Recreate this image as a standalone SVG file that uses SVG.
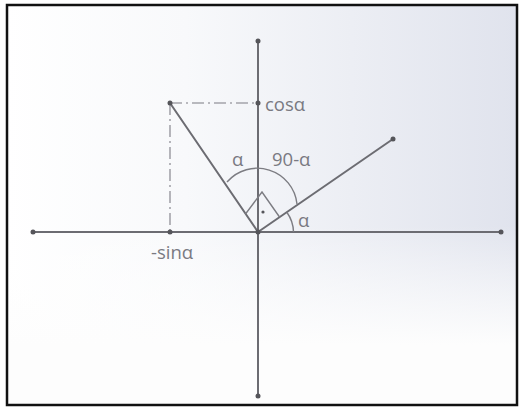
<svg xmlns="http://www.w3.org/2000/svg" width="520" height="410" viewBox="0 0 520 410">
  <defs>
    <linearGradient id="bgH" x1="0" y1="0" x2="1" y2="0">
      <stop offset="0" stop-color="#ffffff"/>
      <stop offset="0.35" stop-color="#f8f9fb"/>
      <stop offset="1" stop-color="#e0e3ed"/>
    </linearGradient>
    <linearGradient id="bgV" x1="0" y1="0" x2="0" y2="1">
      <stop offset="0" stop-color="#ffffff" stop-opacity="0"/>
      <stop offset="0.55" stop-color="#ffffff" stop-opacity="0"/>
      <stop offset="0.85" stop-color="#fdfdfd" stop-opacity="1"/>
      <stop offset="1" stop-color="#fdfdfd" stop-opacity="1"/>
    </linearGradient>
    <style>
      .line { stroke: #6c6c72; stroke-width: 2; fill: none; stroke-linecap: round; }
      .thin { stroke: #7c7c82; stroke-width: 1.4; fill: none; }
      .dash { stroke: #a4a4aa; stroke-width: 1.6; fill: none; stroke-dasharray: 12 4 2 4; }
      .pt { fill: #55555a; }
      .lbl { font-family: "Open Sans", "Liberation Sans", Arial, sans-serif; font-size: 18.5px; fill: #7a7a82; }
    </style>
  </defs>
  <rect x="0" y="0" width="520" height="410" fill="#ffffff"/>
  <rect x="7" y="5" width="510" height="400" fill="url(#bgH)"/>
  <rect x="7" y="5" width="510" height="400" fill="url(#bgV)"/>
  <rect x="7" y="5" width="510" height="400" fill="none" stroke="#111111" stroke-width="2.5"/>

  <g id="connectors">
    <path class="dash" d="M170 103 H258"/>
    <path class="dash" d="M170 103 V232"/>
    <path class="line" d="M258 41 V396"/>
    <path class="line" d="M33 232 H501"/>
    <path class="line" d="M258 232 L170 103"/>
    <path class="line" d="M258 232 L393 139"/>
    <path class="thin" d="M227 182 A40 40 0 0 1 297 204"/>
    <path class="thin" d="M287 212.5 A35 35 0 0 1 293.5 232"/>
    <path class="thin" d="M245.5 214 L262 192 L279.5 217"/>
  </g>

  <g id="points">
    <circle class="pt" cx="258" cy="41" r="2.5"/>
    <circle class="pt" cx="258" cy="396" r="2.5"/>
    <circle class="pt" cx="33" cy="232" r="2.5"/>
    <circle class="pt" cx="501" cy="232" r="2.5"/>
    <circle class="pt" cx="170" cy="103" r="2.5"/>
    <circle class="pt" cx="393" cy="139" r="2.5"/>
    <circle class="pt" cx="258" cy="103" r="2.5"/>
    <circle class="pt" cx="170" cy="232" r="2.5"/>
    <circle class="pt" cx="258" cy="232" r="2.5"/>
    <circle class="pt" cx="263" cy="212" r="1.6"/>
  </g>

  <g id="labels">
    <text class="lbl" x="265" y="111">cosα</text>
    <text class="lbl" x="272" y="166">90-α</text>
    <text class="lbl" x="232" y="166">α</text>
    <text class="lbl" x="298" y="227">α</text>
    <text class="lbl" x="151" y="259">-sinα</text>
  </g>
</svg>
